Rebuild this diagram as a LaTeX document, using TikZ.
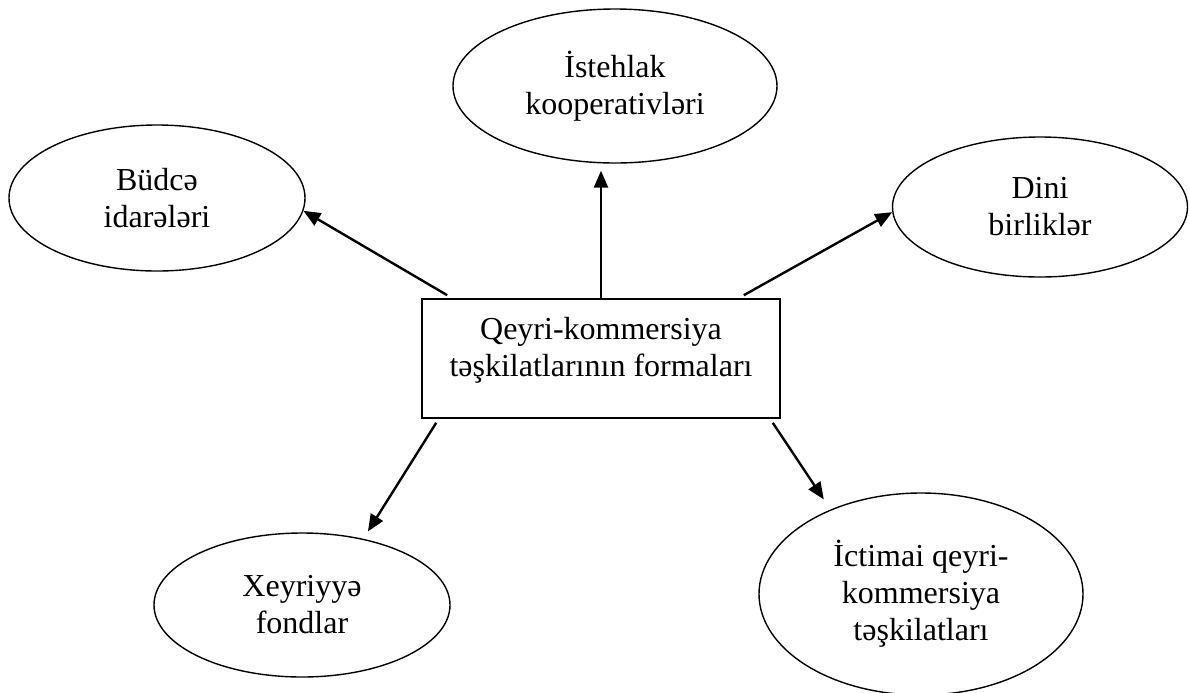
\documentclass[tikz,border=0pt]{standalone}
\usepackage{fontspec}
\setmainfont{Liberation Serif}
\usetikzlibrary{shapes.geometric,arrows.meta}

\begin{document}
\begin{tikzpicture}[x=0.5pt,y=-0.5pt,
    txt/.style={align=center,font=\fontsize{16}{18.5}\selectfont},
    oval/.style={draw,ellipse,line width=0.7pt,inner sep=0pt,txt},
    box/.style={draw,rectangle,line width=0.8pt,minimum width=179pt,minimum height=59.5pt},
    arr/.style={line width=1.2pt,-{Triangle[length=8.5pt,width=7pt]}}]
  \useasboundingbox (0,0) rectangle (1189,692);
  % centre box
  \node[box] (main) at (601,358.5) {};
  \node[txt,anchor=north,inner sep=0pt,yshift=-9.5pt] (maintext) at (main.north) {Qeyri-kommersiya\\təşkilatlarının formaları};
  % forms
  \node[oval,minimum width=148pt,minimum height=73pt] (budce) at (157,198) {Büdcə\\idarələri};
  \node[oval,minimum width=162pt,minimum height=77pt] (istehlak) at (615,86) {İstehlak\\kooperativləri};
  \node[oval,minimum width=147.5pt,minimum height=70pt] (dini) at (1040,207) {Dini\\birliklər};
  \node[oval,minimum width=148pt,minimum height=72pt] (xeyriyye) at (302,605) {Xeyriyyə\\fondlar};
  \node[oval,minimum width=162pt,minimum height=101pt] (ictimai) at (921,594) {İctimai qeyri-\\kommersiya\\təşkilatları};
  \coordinate (isttip) at (main.north |- istehlak.south);
  % arrows
  \draw[arr] ([xshift=13pt,yshift=1.5pt]main.north west) -- (budce.-5);
  \draw[arr] (main.north) -- ([yshift=-3.5pt]isttip);
  \draw[arr] ([xshift=-18.5pt,yshift=1.5pt]main.north east) -- (dini.182);
  \draw[arr] ([xshift=7.5pt,yshift=-2pt]main.south west) -- ([shift={(3pt,3.5pt)}]xeyriyye.48);
  \draw[arr] ([xshift=-4pt,yshift=-2pt]main.south east) -- ([yshift=6.5pt]ictimai.140);
\end{tikzpicture}
\end{document}
